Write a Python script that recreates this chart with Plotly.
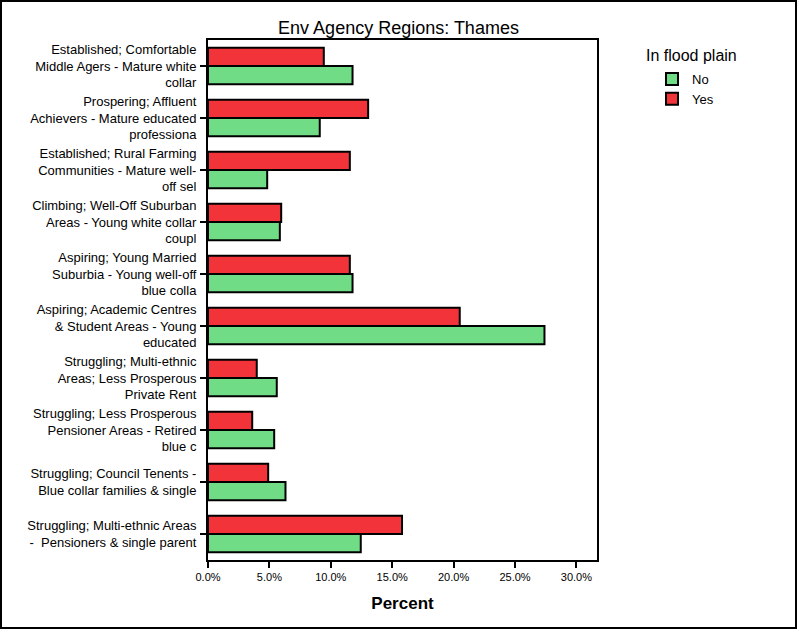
import plotly.graph_objects as go

categories = [
    "Established; Comfortable<br>Middle Agers - Mature white<br>collar",
    "Prospering; Affluent<br>Achievers - Mature educated<br>professiona",
    "Established; Rural Farming<br>Communities - Mature well-<br>off sel",
    "Climbing; Well-Off Suburban<br>Areas - Young white collar<br>coupl",
    "Aspiring; Young Married<br>Suburbia - Young well-off<br>blue colla",
    "Aspiring; Academic Centres<br>& Student Areas - Young<br>educated",
    "Struggling; Multi-ethnic<br>Areas; Less Prosperous<br>Private Rent",
    "Struggling; Less Prosperous<br>Pensioner Areas - Retired<br>blue c",
    "Struggling; Council Tenents -<br>Blue collar families & single",
    "Struggling; Multi-ethnic Areas<br>-  Pensioners & single parent",
]
no_values = [11.77, 9.1, 4.82, 5.85, 11.77, 27.4, 5.6, 5.39, 6.31, 12.44]
yes_values = [9.43, 13.04, 11.55, 5.96, 11.55, 20.5, 3.97, 3.6, 4.9, 15.8]
x_ticks = [0, 5, 10, 15, 20, 25, 30]
x_tick_labels = ["0.0%", "5.0%", "10.0%", "15.0%", "20.0%", "25.0%", "30.0%"]

FONT = "Liberation Sans, Arial, sans-serif"

fig = go.Figure()
fig.add_trace(go.Bar(
    name="No", y=categories, x=no_values, orientation="h",
    marker=dict(color="#70DC86", line=dict(color="black", width=2)),
))
fig.add_trace(go.Bar(
    name="Yes", y=categories, x=yes_values, orientation="h",
    marker=dict(color="#F2333A", line=dict(color="black", width=2)),
))

L, R, T, B = 208, 200, 40, 69
W, H = 797, 629
pw, ph = W - L - R, H - T - B

fig.update_layout(
    width=W, height=H,
    margin=dict(l=L, r=R, t=T, b=B, pad=0),
    paper_bgcolor="white", plot_bgcolor="white",
    font=dict(family=FONT, size=12, color="black"),
    barmode="group", bargap=0.3, bargroupgap=0,
    title=dict(text="Env Agency Regions: Thames", x=0.5, xanchor="center",
               y=1 - 28 / H, yanchor="middle", font=dict(size=18)),
    showlegend=True,
    legend=dict(x=(652 - L) / pw, xanchor="left", y=1 - (64 - T) / ph, yanchor="top",
                font=dict(size=13), traceorder="normal", bgcolor="rgba(0,0,0,0)",
                itemwidth=30, tracegroupgap=0),
    xaxis=dict(range=[0, (597 - L) / 12.28], tickmode="array", tickvals=x_ticks,
               ticktext=x_tick_labels, ticks="outside", ticklen=6, tickwidth=2,
               tickcolor="black", showline=True, linecolor="black", linewidth=2,
               mirror=True, showgrid=False, zeroline=False,
               tickfont=dict(size=11),
               title=dict(text="<b>Percent</b>", font=dict(size=17), standoff=15)),
    yaxis=dict(categoryorder="array", categoryarray=categories[::-1],
               ticks="outside", ticklen=6, tickwidth=2, tickcolor="black",
               showline=True, linecolor="black", linewidth=2, mirror=True,
               showgrid=False, tickfont=dict(size=13), automargin=False,
               ticklabelstandoff=1),
    annotations=[dict(text="In flood plain", xref="paper", yref="paper",
                      x=(644 - L) / pw, xanchor="left", y=1 - (55 - T) / ph,
                      yanchor="middle", showarrow=False, font=dict(size=16))],
    shapes=[dict(type="rect", xref="paper", yref="paper",
                 x0=(1 - L) / pw, x1=(796 - L) / pw,
                 y0=-(628 - T - ph) / ph, y1=1 + (T - 1) / ph,
                 line=dict(color="black", width=2), layer="below")],
)

fig.write_html("out.html", config={"displayModeBar": False},
               post_script="document.body.style.margin='0';")
